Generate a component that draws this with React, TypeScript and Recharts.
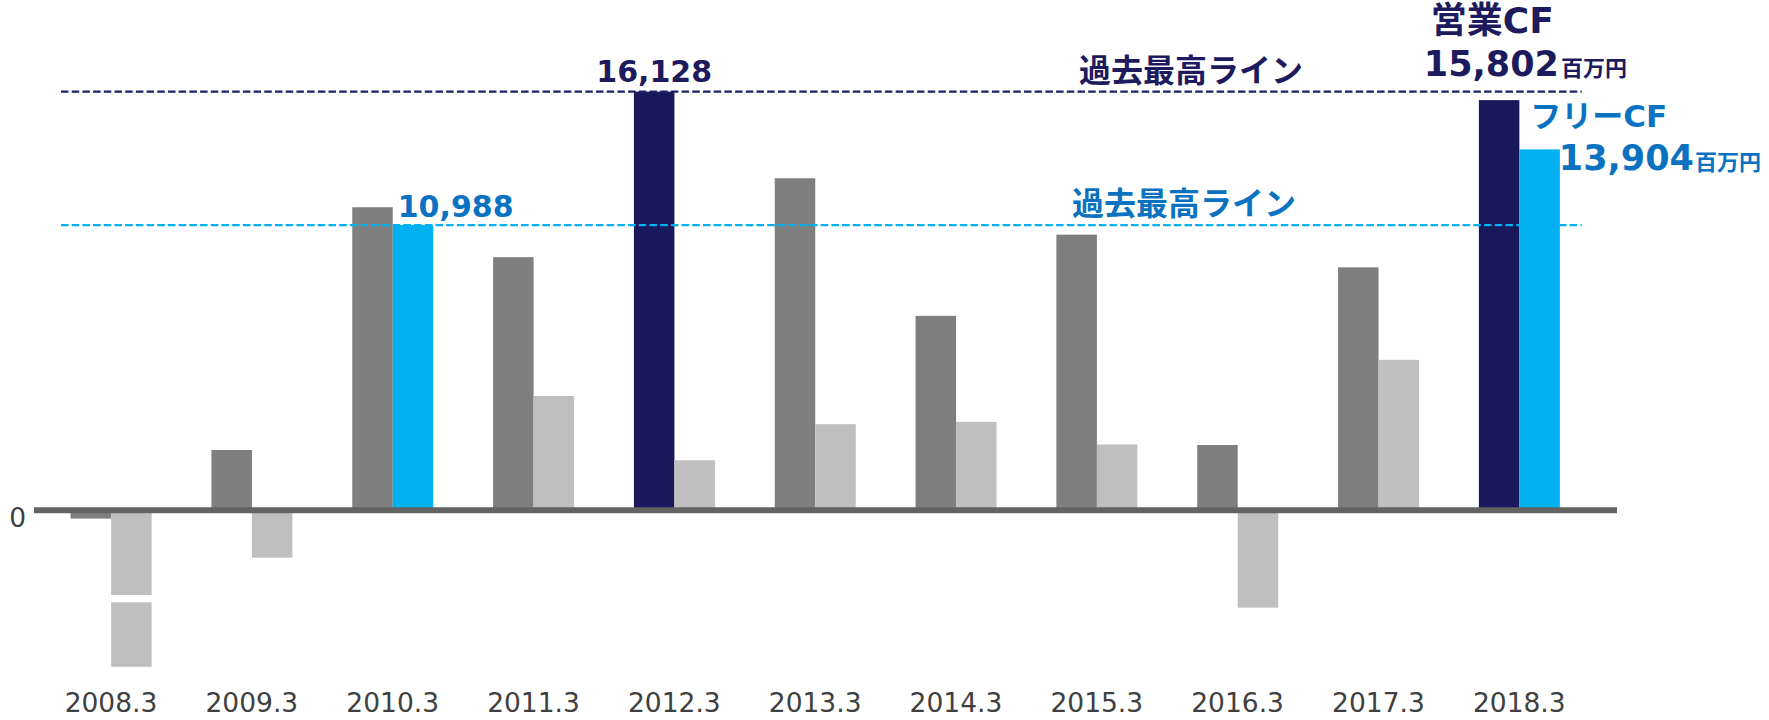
import React from 'react';
import { BarChart, Bar, XAxis, YAxis, ReferenceLine } from 'recharts';

const categories = ['2008.3', '2009.3', '2010.3', '2011.3', '2012.3', '2013.3', '2014.3', '2015.3', '2016.3', '2017.3', '2018.3'];
const operatingCF = [-320, 2323, 11675, 9752, 16128, 12792, 7490, 10619, 2516, 9359, 15802];
const freeCF = [-6030, -1826, 10988, 4404, 1926, 3317, 3406, 2535, -3753, 5795, 13904];
const yTicks = [0];
const operatingRecord = 16128;
const freeRecord = 10988;
const highlightOp = ['2012.3', '2018.3'];
const highlightFree = ['2010.3', '2018.3'];
const brokenFree = ['2008.3'];
const latestCategory = '2018.3';
const opTitle = '営業CF';
const freeTitle = 'フリーCF';
const unitText = '百万円';
const recordText = '過去最高ライン';

const NAVY = '#19185a';
const NAVY_TEXT = '#1d1b5e';
const GRAY = '#7f7f7f';
const LIGHT_GRAY = '#bfbfbf';
const BLUE = '#00b0f0';
const BLUE_TEXT = '#0a72c0';
const FONT = "'DejaVu Sans', 'Noto Sans CJK JP', sans-serif";

const data = categories.map((c, i) => ({ category: c, op: operatingCF[i], free: freeCF[i] }));
const fmt = (v: number) => v.toLocaleString('en-US');

const OpShape = (p: any) => {
  const cat = p.payload?.category ?? categories[p.index];
  const top = Math.min(p.y, p.y + p.height);
  const h = Math.abs(p.height);
  const hl = highlightOp.includes(cat);
  const value = p.payload?.op;
  return (
    <g>
      <rect x={p.x} y={top} width={p.width} height={h} fill={hl ? NAVY : GRAY} />
      {hl && cat !== latestCategory && (
        <text x={p.x + p.width / 2} y={top - 9.5} textAnchor="middle" fontFamily={FONT} fontWeight={700} fontSize={30} fill={NAVY_TEXT}>
          {fmt(value)}
        </text>
      )}
      {hl && cat === latestCategory && (
        <g fontFamily={FONT} fontWeight={700} fill={NAVY_TEXT}>
          <text x={p.x - 48} y={top - 67} fontSize={36}>{opTitle}</text>
          <text x={p.x - 55} y={top - 24} fontSize={35}>
            {fmt(value)}
            <tspan fontSize={22} dx={2}>{unitText}</tspan>
          </text>
        </g>
      )}
    </g>
  );
};

const FreeShape = (p: any) => {
  const cat = p.payload?.category ?? categories[p.index];
  const top = Math.min(p.y, p.y + p.height);
  const h = Math.abs(p.height);
  const hl = highlightFree.includes(cat);
  const broken = brokenFree.includes(cat);
  const value = p.payload?.free;
  return (
    <g>
      <rect x={p.x} y={top} width={p.width} height={h} fill={hl ? BLUE : LIGHT_GRAY} />
      {broken && <rect x={p.x - 1} y={top + h * 0.5415} width={p.width + 2} height={7.3} fill="#ffffff" />}
      {hl && cat !== latestCategory && (
        <text x={p.x + 5} y={top - 7.7} fontFamily={FONT} fontWeight={700} fontSize={30} fill={BLUE_TEXT}>
          {fmt(value)}
        </text>
      )}
      {hl && cat === latestCategory && (
        <g fontFamily={FONT} fontWeight={700} fill={BLUE_TEXT}>
          <text x={p.x + 11} y={top - 22} fontSize={31}>{freeTitle}</text>
          <text x={p.x + p.width - 1} y={top + 21} fontSize={35}>
            {fmt(value)}
            <tspan fontSize={22} dx={1}>{unitText}</tspan>
          </text>
        </g>
      )}
    </g>
  );
};

const recordLine = (color: string, textColor: string, textOffset: number) => (p: any) => {
  const x1 = Math.min(p.x1, p.x2);
  const x2 = Math.max(p.x1, p.x2);
  return (
    <g>
      <line x1={x1 + 27} x2={x2 - 35.3} y1={p.y1} y2={p.y2} stroke={color} strokeWidth={2.2} strokeDasharray="7.5 3.2" />
      <text x={x1 + textOffset} y={p.y1 - 10} fontFamily={FONT} fontWeight={700} fontSize={32} fill={textColor}>
        {recordText}
      </text>
    </g>
  );
};

const XTick = (p: any) => (
  <text x={p.x} y={p.y} dy={24.7} textAnchor="middle" fontFamily={FONT} fontSize={26.5} fill="#404040">
    {p.payload.value}
  </text>
);

const YTick = (p: any) => (
  <text x={p.x} y={p.y} dy={16.4} textAnchor="end" fontFamily={FONT} fontSize={26.5} fill="#404040">
    {p.payload.value}
  </text>
);

export default function App() {
  return (
    <div style={{ position: 'absolute', left: 0, top: 0, width: 1769, height: 720, background: '#ffffff' }}>
      <BarChart
        width={1769}
        height={720}
        data={data}
        margin={{ top: 82, right: 152, bottom: 11, left: 0 }}
        barGap={0}
      >
        <XAxis
          dataKey="category"
          axisLine={false}
          tickLine={false}
          height={30}
          interval={0}
          padding={{ left: 6.6, right: 27.3 }}
          tick={<XTick />}
        />
        <YAxis
          domain={[-6500, 16500]}
          ticks={yTicks}
          width={34}
          axisLine={false}
          tickLine={false}
          tick={<YTick />}
        />
        <Bar dataKey="op" barSize={40.5} isAnimationActive={false} shape={OpShape} />
        <Bar dataKey="free" barSize={40.5} isAnimationActive={false} shape={FreeShape} />
        <ReferenceLine y={0} stroke="#636363" strokeWidth={6} />
        <ReferenceLine y={operatingRecord} shape={recordLine('#1f1f66', NAVY_TEXT, 1045)} />
        <ReferenceLine y={freeRecord} shape={recordLine(BLUE, BLUE_TEXT, 1038)} />
      </BarChart>
    </div>
  );
}
